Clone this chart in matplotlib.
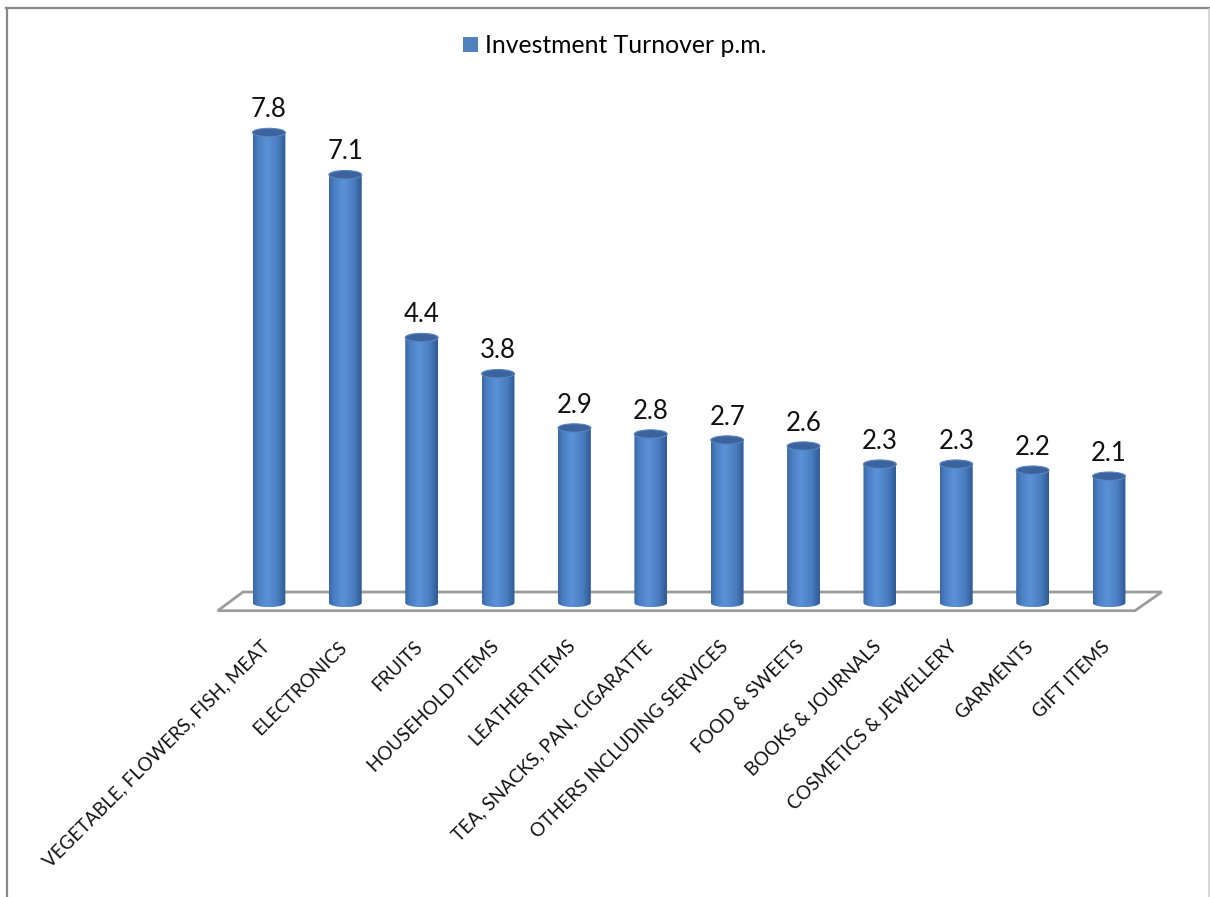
import numpy as np
import matplotlib
matplotlib.use('Agg')
import matplotlib.pyplot as plt
from matplotlib.patches import Ellipse, Polygon, PathPatch, Patch
from matplotlib.path import Path
from matplotlib.colors import LinearSegmentedColormap
from matplotlib.lines import Line2D

plt.rcParams['font.family'] = ['Lato', 'DejaVu Sans']

# ── Data ───────────────────────────────────────────────────────────────────────
CATEGORIES = [
    'VEGETABLE, FLOWERS, FISH, MEAT', 'ELECTRONICS', 'FRUITS', 'HOUSEHOLD ITEMS',
    'LEATHER ITEMS', 'TEA, SNACKS, PAN, CIGARATTE', 'OTHERS INCLUDING SERVICES',
    'FOOD & SWEETS', 'BOOKS & JOURNALS', 'COSMETICS & JEWELLERY', 'GARMENTS',
    'GIFT ITEMS',
]
TURNOVER = [7.8, 7.1, 4.4, 3.8, 2.9, 2.8, 2.7, 2.6, 2.3, 2.3, 2.2, 2.1]
SERIES_NAME = 'Investment Turnover p.m.'

# ── Style ──────────────────────────────────────────────────────────────────────
BAR_W = 0.43        # cylinder diameter (category units)
CAP_H = 0.14        # ellipse height (value units)
cyl_cmap = LinearSegmentedColormap.from_list(
    'cyl', [(0.0, '#3a67a2'), (0.15, '#4a7ec2'), (0.42, '#5b92d8'),
            (0.75, '#4a7dc0'), (1.0, '#2f5992')])
TOP_COLOR = '#3b649e'

fig = plt.figure(figsize=(12.10, 8.97), dpi=100)
ax = fig.add_axes([0.1907, 0.2943, 0.7574, 0.605])
ax.set_xlim(-0.5, 11.5)
ax.set_ylim(-0.5, 8.5)
ax.axis('off')

# floor of the 3-D plot area
floor = Polygon([(-0.34, 0.18), (11.69, 0.18), (11.34, -0.13), (-0.67, -0.13)],
                closed=True, facecolor='white', edgecolor='#9c9c9c', lw=2.0,
                zorder=1, clip_on=False)
ax.add_patch(floor)

grad = np.linspace(0, 1, 256).reshape(1, -1)
theta = np.linspace(0, -np.pi, 40)
for i, v in enumerate(TURNOVER):
    x0, x1 = i - BAR_W / 2, i + BAR_W / 2
    # body outline: straight sides with a rounded (elliptical) bottom
    verts = [(x0, v), (x1, v)]
    verts += [(i + BAR_W / 2 * np.cos(t), CAP_H / 2 * np.sin(t)) for t in theta]
    verts.append((x0, v))
    body = PathPatch(Path(verts, closed=True), facecolor='none', edgecolor='none')
    ax.add_patch(body)
    im = ax.imshow(grad, cmap=cyl_cmap, aspect='auto', interpolation='bilinear',
                   extent=(x0, x1, -CAP_H / 2, v), zorder=3)
    im.set_clip_path(body)
    ax.add_patch(Ellipse((i, v), BAR_W, CAP_H, facecolor=TOP_COLOR,
                         edgecolor='#5a86c0', lw=0.8, zorder=4))
    ax.annotate(f'{v:.1f}', xy=(i, v), xytext=(0, 11), textcoords='offset points',
                ha='center', va='baseline', fontsize=18.5, color='#111111')
    ax.text(i - 0.1, -0.58, CATEGORIES[i], rotation=45, rotation_mode='anchor',
            ha='right', va='top', fontsize=13.5, color='#111111')

# legend
handle = Patch(facecolor='#4f81bd', edgecolor='none')
fig.legend([handle], [SERIES_NAME], loc='center', bbox_to_anchor=(0.508, 0.949),
           frameon=False, fontsize=17.8, handlelength=0.6, handleheight=0.6,
           handletextpad=0.3)

# chart border
fig.add_artist(Line2D([6 / 1210, 1.0], [1 - 8 / 897] * 2, transform=fig.transFigure,
                      color='#888888', lw=1.6))
fig.add_artist(Line2D([7 / 1210] * 2, [0.0, 1 - 8 / 897], transform=fig.transFigure,
                      color='#888888', lw=1.6))
fig.add_artist(Line2D([1209 / 1210] * 2, [0.0, 1 - 9 / 897], transform=fig.transFigure,
                      color='#d0d0d0', lw=1.2))

fig.savefig('out.png', dpi=100, facecolor='white')
